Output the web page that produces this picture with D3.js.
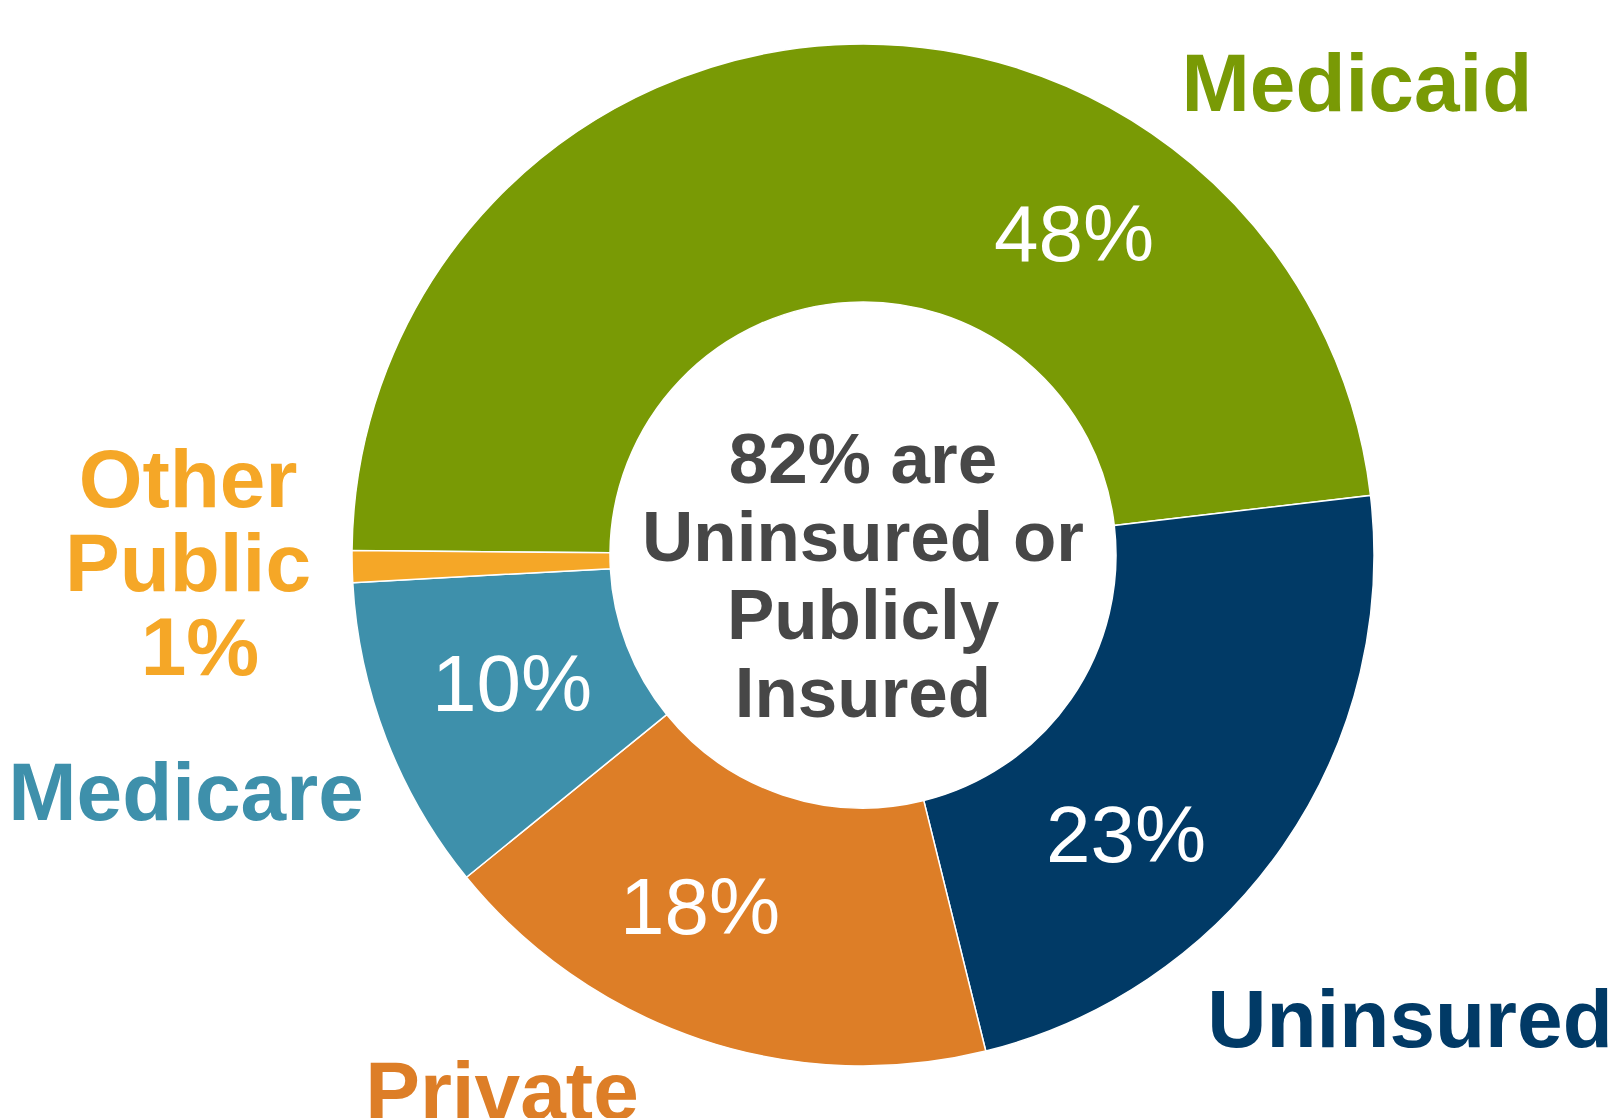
<!DOCTYPE html>
<html>
    <head>
        <script src="https://d3js.org/d3.v7.min.js"></script>
        <style>
            body, html {
                margin: 0;
                padding: 0;
                background: #FFFFFF;
                font-family: "Liberation Sans", Arial, Helvetica, sans-serif;
            }
            .catLabel {
                font-weight: bold;
                font-size: 82px;
            }
            .pctLabel {
                fill: #FFFFFF;
                font-size: 80px;
            }
            .centerLabel {
                fill: #474747;
                font-weight: bold;
                font-size: 71px;
            }
        </style>
    </head>
    <body>
        <div id="chart"></div>
        <script>

            /* DATA */
            const categories = ["Medicaid", "Uninsured", "Private", "Medicare", "Other Public"];
            const values = [48, 23, 18, 10, 1];
            const colors = ["#799A05", "#013A66", "#DD7E27", "#3E90AB", "#F5A727"];
            const centerLines = ["82% are", "Uninsured or", "Publicly", "Insured"];

            /* LAYOUT */
            const width = 1619;
            const height = 1118;
            const cx = 863, cy = 555;
            const outerR = 511, innerR = 253;

            // where each category name and percentage sits (pixels)
            const namePos = [
                {x: 1357, y: 111},
                {x: 1410, y: 1047},
                {x: 502, y: 1119},
                {x: 186, y: 820},
                {x: 188, y: 507}
            ];
            const pctPos = [
                {x: 1074, y: 261},
                {x: 1126, y: 862},
                {x: 700, y: 934},
                {x: 512, y: 711},
                null
            ];

            const svg = d3.select("#chart")
                .append("svg")
                .attr("width", width)
                .attr("height", height);

            const data = categories.map((c, i) => ({name: c, value: values[i], color: colors[i]}));

            const pie = d3.pie()
                .sort(null)
                .value(d => d.value)
                .startAngle(-89.5 * Math.PI / 180)
                .endAngle(270.5 * Math.PI / 180);

            const arc = d3.arc()
                .innerRadius(innerR)
                .outerRadius(outerR);

            const g = svg.append("g")
                .attr("transform", `translate(${cx},${cy})`);

            g.selectAll("path")
                .data(pie(data))
                .enter()
                .append("path")
                    .attr("d", arc)
                    .attr("fill", d => d.data.color)
                    .attr("stroke", "#FFFFFF")
                    .attr("stroke-width", 1.5);

            // percentages inside slices
            data.forEach((d, i) => {
                if(!pctPos[i]) return;
                svg.append("text")
                    .attr("class", "pctLabel")
                    .attr("x", pctPos[i].x)
                    .attr("y", pctPos[i].y)
                    .attr("text-anchor", "middle")
                    .text(d.value + "%");
            });

            // category names
            data.forEach((d, i) => {
                const t = svg.append("text")
                    .attr("class", "catLabel")
                    .attr("fill", d.color)
                    .attr("text-anchor", "middle");
                if(d.name === "Other Public") {
                    const lines = ["Other", "Public", d.value + "%"];
                    lines.forEach((l, j) => {
                        t.append("tspan")
                            .attr("x", namePos[i].x + (j === 2 ? 12 : 0))
                            .attr("y", namePos[i].y + j * 84)
                            .text(l);
                    });
                } else {
                    t.attr("x", namePos[i].x)
                        .attr("y", namePos[i].y)
                        .text(d.name);
                }
            });

            // center text
            const ct = svg.append("text")
                .attr("class", "centerLabel")
                .attr("text-anchor", "middle");
            centerLines.forEach((l, j) => {
                ct.append("tspan")
                    .attr("x", cx)
                    .attr("y", 483 + j * 78)
                    .text(l);
            });

        </script>
    </body>
</html>
